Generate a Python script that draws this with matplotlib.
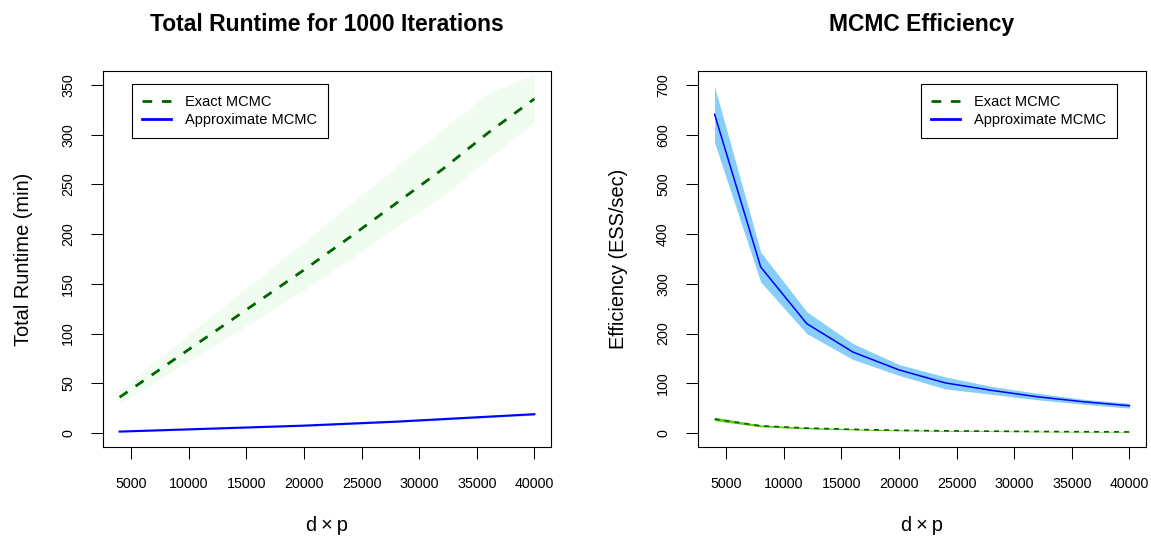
import numpy as np
import matplotlib
matplotlib.use("Agg")
import matplotlib.pyplot as plt
from matplotlib.lines import Line2D

plt.rcParams['font.family'] = ['Liberation Sans', 'DejaVu Sans']

# -------------------------------
# Data
# -------------------------------
dp = [4000, 8000, 12000, 16000, 20000, 24000, 28000, 32000, 36000, 40000]

# total runtime (min)
rt_exact = [36, 68, 100, 132, 164, 197, 231, 265, 302, 336]
rt_exact_lo = [30, 58, 87, 115, 144, 175, 207, 238, 276, 313]
rt_exact_hi = [43, 80, 118, 155, 192, 230, 267, 305, 342, 360]
rt_approx = [1.5, 3, 4.5, 6, 7.5, 9.5, 11.5, 14, 16.5, 19]
rt_approx_lo = [1.0, 2.4, 3.8, 5.3, 6.8, 8.7, 10.7, 13.1, 15.6, 18.0]
rt_approx_hi = [2.0, 3.6, 5.2, 6.7, 8.2, 10.3, 12.3, 14.9, 17.4, 20.0]

# efficiency (ESS/sec)
eff_exact = [28, 14.5, 10, 7.5, 5.5, 4.5, 3.8, 3.2, 2.7, 2.3]
eff_exact_lo = [25, 12.5, 8.5, 6.3, 4.6, 3.7, 3.1, 2.6, 2.2, 1.8]
eff_exact_hi = [32, 16.5, 11.5, 8.7, 6.4, 5.3, 4.5, 3.8, 3.2, 2.8]
eff_approx = [641, 334, 220, 163, 127, 101, 86, 73, 63, 55]
eff_approx_lo = [584, 304, 200, 148, 116, 89, 78, 67, 58, 50]
eff_approx_hi = [697, 364, 244, 180, 138, 113, 94, 80, 68, 60]

xticks = [5000, 10000, 15000, 20000, 25000, 30000, 35000, 40000]
rt_yticks = [0, 50, 100, 150, 200, 250, 300, 350]
eff_yticks = [0, 100, 200, 300, 400, 500, 600, 700]

# -------------------------------
# Figure / axes layout
# -------------------------------
fig = plt.figure(figsize=(11.51, 5.36), dpi=100)
ax1 = fig.add_axes([103 / 1151, 89 / 536, 448 / 1151, 376 / 536])
ax2 = fig.add_axes([698 / 1151, 89 / 536, 448 / 1151, 376 / 536])

dash = (3.5, 3.5)


def style_axes(ax, yticks, ylim, title, ylabel):
    ax.set_xlim(2560, 41440)
    ax.set_ylim(*ylim)
    ax.set_xticks(xticks)
    ax.set_xticklabels([str(t) for t in xticks])
    ax.set_yticks(yticks)
    ax.set_yticklabels([str(t) for t in yticks], rotation=90, va='center')
    ax.tick_params(axis='x', length=8.6, width=0.75, pad=13, labelsize=10.3)
    ax.tick_params(axis='y', length=8.6, width=0.75, pad=11.5, labelsize=10.3)
    for s in ax.spines.values():
        s.set_linewidth(0.8)
    ax.set_title(title, fontsize=16.5, fontweight='bold', pad=29)
    ax.set_xlabel('d\u2009\u00d7\u2009p', fontsize=14.4)
    ax.xaxis.set_label_coords(0.5, -0.184)
    ax.set_ylabel(ylabel, fontsize=14.4)
    ax.yaxis.set_label_coords(-0.156, 0.5)


# Left panel: total runtime
ax1.fill_between(dp, rt_exact_lo, rt_exact_hi, color='#EFFCEF', linewidth=0)
ax1.fill_between(dp, rt_approx_lo, rt_approx_hi, color='#87CEFA', linewidth=0)
ax1.plot(dp, rt_exact, color='#006400', linewidth=2, dashes=dash)
ax1.plot(dp, rt_approx, color='blue', linewidth=1.5)
style_axes(ax1, rt_yticks, (-14, 364), 'Total Runtime for 1000 Iterations',
           'Total Runtime (min)')

# Right panel: efficiency
ax2.fill_between(dp, eff_approx_lo, eff_approx_hi, color='#87CEFA', linewidth=0)
ax2.fill_between(dp, eff_exact_lo, eff_exact_hi, color='#66CD00', linewidth=0)
ax2.plot(dp, eff_exact, color='#006400', linewidth=1.2, dashes=(3, 3))
ax2.plot(dp, eff_approx, color='blue', linewidth=1.1)
style_axes(ax2, eff_yticks, (-28, 728), 'MCMC Efficiency', 'Efficiency (ESS/sec)')

# Legends
handles = [
    Line2D([], [], color='#006400', linewidth=2, dashes=dash),
    Line2D([], [], color='blue', linewidth=2),
]
labels = ['Exact MCMC', 'Approximate MCMC']
leg_kw = dict(fontsize=10.5, frameon=True, fancybox=False, framealpha=1,
              edgecolor='black', borderpad=0.72, labelspacing=0.3,
              handlelength=1.95, handletextpad=1.0, borderaxespad=0)
lg1 = ax1.legend(handles, labels, loc='upper left',
                 bbox_to_anchor=(0.064, 0.9646), **leg_kw)
lg2 = ax2.legend(handles, labels, loc='upper right',
                 bbox_to_anchor=(0.9346, 0.9646), **leg_kw)
for lg in (lg1, lg2):
    lg.get_frame().set_linewidth(0.8)

fig.savefig('out.png', dpi=100)
